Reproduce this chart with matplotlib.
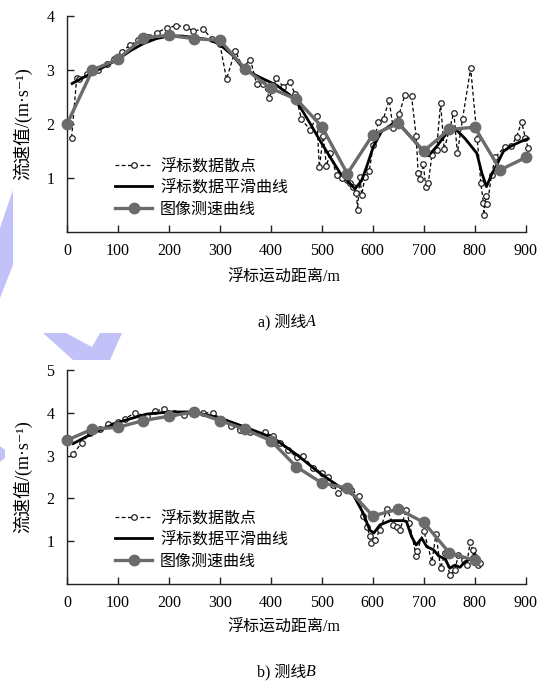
import matplotlib
matplotlib.use("Agg")
import matplotlib.pyplot as plt
from matplotlib.patches import Polygon

plt.rcParams['font.family'] = ['Liberation Serif', 'Noto Sans CJK SC', 'DejaVu Serif']

# ---------------- data: line A ----------------
a_scatter_x = [9, 19, 24, 40, 60, 78, 92, 107, 124, 140, 158, 176, 196, 214, 233, 248, 267, 284, 300,
               313, 330, 345, 360, 372, 385, 397, 411, 424, 437, 448, 460, 477, 490, 495, 503, 509, 516,
               529, 539, 549, 555, 562, 568, 570, 575, 578, 585, 593, 601, 611, 621, 632, 640, 652, 663,
               676, 685, 689, 693, 699, 704, 709, 716, 725, 733, 740, 759, 766, 776, 792, 805, 812, 817,
               818, 822, 825, 833, 840, 859, 872, 882, 892, 899, 905]
a_scatter_y = [1.75, 2.85, 2.84, 2.92, 3.00, 3.12, 3.20, 3.34, 3.46, 3.55, 3.62, 3.69, 3.78, 3.82, 3.80,
               3.72, 3.76, 3.58, 3.48, 2.83, 3.36, 3.05, 3.19, 2.74, 2.74, 2.49, 2.85, 2.69, 2.77, 2.55,
               2.09, 1.89, 2.14, 1.20, 1.77, 1.22, 1.46, 1.06, 1.00, 0.96, 0.90, 0.84, 0.72, 0.41, 1.02,
               0.69, 1.02, 1.13, 1.61, 2.04, 2.10, 2.44, 1.92, 2.19, 2.54, 2.52, 1.78, 1.10, 0.99, 1.26,
               0.83, 0.91, 1.43, 1.52, 2.39, 1.53, 2.21, 1.46, 2.09, 3.03, 1.72, 0.90, 0.54, 0.31, 0.67,
               0.52, 1.06, 1.38, 1.58, 1.59, 1.76, 2.04, 1.75, 1.55]
a_smooth_x = [10, 30, 50, 75, 100, 125, 150, 175, 200, 225, 250, 280, 300, 325, 346, 375, 411, 437, 457,
              477, 496, 516, 536, 550, 565, 578, 588, 601, 617, 640, 657, 680, 699, 709, 725, 745, 761,
              781, 804, 814, 823, 833, 843, 856, 869, 889, 905]
a_smooth_y = [2.75, 2.85, 2.95, 3.07, 3.20, 3.36, 3.49, 3.58, 3.63, 3.63, 3.60, 3.56, 3.47, 3.27, 3.03,
              2.88, 2.72, 2.54, 2.32, 2.01, 1.70, 1.39, 1.09, 0.95, 0.80, 0.95, 1.21, 1.58, 1.86, 2.01,
              1.95, 1.70, 1.49, 1.41, 1.58, 1.83, 1.92, 1.73, 1.46, 1.09, 0.84, 1.06, 1.24, 1.49, 1.58,
              1.67, 1.73]
a_image_x = [0, 50, 100, 150, 200, 250, 300, 350, 400, 450, 500, 550, 600, 650, 700, 750, 800, 850, 900]
a_image_y = [2.00, 3.00, 3.20, 3.60, 3.64, 3.58, 3.55, 3.02, 2.66, 2.46, 1.95, 1.08, 1.80, 2.01, 1.50,
             1.90, 1.94, 1.15, 1.38]

# ---------------- data: line B ----------------
b_scatter_x = [12, 29, 45, 65, 81, 101, 114, 133, 156, 173, 191, 209, 230, 250, 267, 286, 303, 321, 339,
               360, 388, 405, 418, 434, 451, 464, 483, 500, 513, 522, 532, 545, 558, 573, 580, 589, 594,
               597, 604, 614, 628, 640, 648, 653, 666, 672, 685, 687, 700, 716, 724, 733, 742, 751, 761,
               768, 778, 784, 791, 796, 800, 807, 810]
b_scatter_y = [3.04, 3.30, 3.53, 3.62, 3.74, 3.78, 3.86, 4.00, 3.92, 4.04, 4.09, 4.00, 3.94, 4.00, 4.00,
               4.00, 3.85, 3.70, 3.59, 3.55, 3.54, 3.45, 3.30, 3.12, 2.97, 2.98, 2.71, 2.60, 2.50, 2.32,
               2.12, 2.25, 2.20, 2.06, 1.58, 1.34, 1.11, 0.95, 1.03, 1.26, 1.75, 1.38, 1.33, 1.26, 1.73,
               1.42, 0.66, 0.76, 1.25, 0.52, 1.17, 0.37, 0.72, 0.21, 0.33, 0.68, 0.56, 0.44, 0.97, 0.80,
               0.64, 0.44, 0.50]
b_smooth_x = [12, 52, 101, 156, 202, 248, 300, 353, 405, 451, 496, 536, 562, 581, 594, 602, 614, 634, 660,
              666, 676, 685, 696, 706, 719, 729, 742, 751, 761, 771, 781, 791, 800, 807]
b_smooth_y = [3.28, 3.53, 3.78, 3.97, 4.02, 4.02, 3.88, 3.65, 3.41, 3.02, 2.59, 2.26, 2.08, 1.66, 1.26,
              1.19, 1.38, 1.48, 1.48, 1.46, 1.11, 0.91, 1.07, 0.87, 0.80, 0.66, 0.58, 0.37, 0.44, 0.39,
              0.52, 0.58, 0.70, 0.56]
b_image_x = [0, 50, 100, 150, 200, 250, 300, 350, 400, 450, 500, 550, 600, 650, 700, 750, 800]
b_image_y = [3.36, 3.62, 3.66, 3.82, 3.92, 4.02, 3.82, 3.61, 3.35, 2.74, 2.36, 2.24, 1.59, 1.75, 1.44,
             0.73, 0.55]

x_ticks = [0, 100, 200, 300, 400, 500, 600, 700, 800, 900]
labels = ['浮标数据散点', '浮标数据平滑曲线', '图像测速曲线']
ylabel = '流速值/(m·s⁻¹)'
xlabel = '浮标运动距离/m'

W, H = 545, 683
fig = plt.figure(figsize=(W / 100, H / 100), dpi=100)

# watermark shapes (light blue)
wm = '#c2c2f8'
def px(pts):
    return [(x / W, 1 - y / H) for x, y in pts]
for poly in ([(0, 228), (13, 190), (13, 265), (0, 298)],
             [(43, 333), (66, 333), (92, 347), (100, 333), (122, 333), (110, 360), (73, 360)],
             [(0, 446), (5, 450), (5, 458), (0, 462)]):
    fig.patches.append(Polygon(px(poly), closed=True, transform=fig.transFigure,
                               facecolor=wm, edgecolor='none', zorder=0))

gray = '#6b6b6b'
FS = 11.5

def draw(ax, sx, sy, mx, my, ix, iy, ymax, yticks, leg_y):
    l1, = ax.plot(sx, sy, linestyle=(0, (3, 2)), color='black', lw=0.9, marker='o', ms=4.0,
                  mfc='white', mec='#222222', mew=0.9, clip_on=False, zorder=3)
    l2, = ax.plot(mx, my, color='black', lw=2.0, clip_on=False, zorder=4)
    l3, = ax.plot(ix, iy, color=gray, lw=2.4, marker='o', ms=7.5, mfc=gray, mec=gray,
                  clip_on=False, zorder=5)
    ax.set_xlim(0, 900)
    ax.set_ylim(0, ymax)
    ax.set_xticks(x_ticks)
    ax.set_yticks(yticks)
    ax.spines['top'].set_visible(False)
    ax.spines['right'].set_visible(False)
    for s in ('left', 'bottom'):
        ax.spines[s].set_linewidth(1.0)
        ax.spines[s].set_color('#222222')
    ax.tick_params(direction='in', length=5, width=1.0, labelsize=FS, color='#222222')
    ax.tick_params(axis='y', pad=9)
    ax.tick_params(axis='x', pad=8)
    ax.set_ylabel(ylabel, fontsize=13, labelpad=10)
    ax.legend([l1, l2, l3], labels, loc='upper left', bbox_to_anchor=(0.105, leg_y),
              frameon=False, fontsize=FS, handlelength=2.3, handletextpad=0.5,
              labelspacing=0.35, borderpad=0, borderaxespad=0)
    return ax

ax1 = fig.add_axes([67 / W, 1 - 232 / H, 458.7 / W, 216 / H])
draw(ax1, a_scatter_x, a_scatter_y, a_smooth_x, a_smooth_y, a_image_x, a_image_y, 4, [1, 2, 3, 4], 0.342)
ax2 = fig.add_axes([67 / W, 1 - 584 / H, 458.7 / W, 214 / H])
draw(ax2, b_scatter_x, b_scatter_y, b_smooth_x, b_smooth_y, b_image_x, b_image_y, 5, [1, 2, 3, 4, 5], 0.345)

fig.text(284 / W, 1 - 277 / H, xlabel, ha='center', va='center', fontsize=FS)
fig.text(284 / W, 1 - 627 / H, xlabel, ha='center', va='center', fontsize=FS)
for yy, pre, letter in ((322, 'a) 测线', 'A'), (672, 'b) 测线', 'B')):
    fig.text(306 / W, 1 - yy / H, pre, ha='right', va='center', fontsize=FS)
    fig.text(306 / W, 1 - yy / H, letter, ha='left', va='center', fontsize=FS,
             style='italic', family='Liberation Serif')

fig.savefig('out.png', dpi=100)
